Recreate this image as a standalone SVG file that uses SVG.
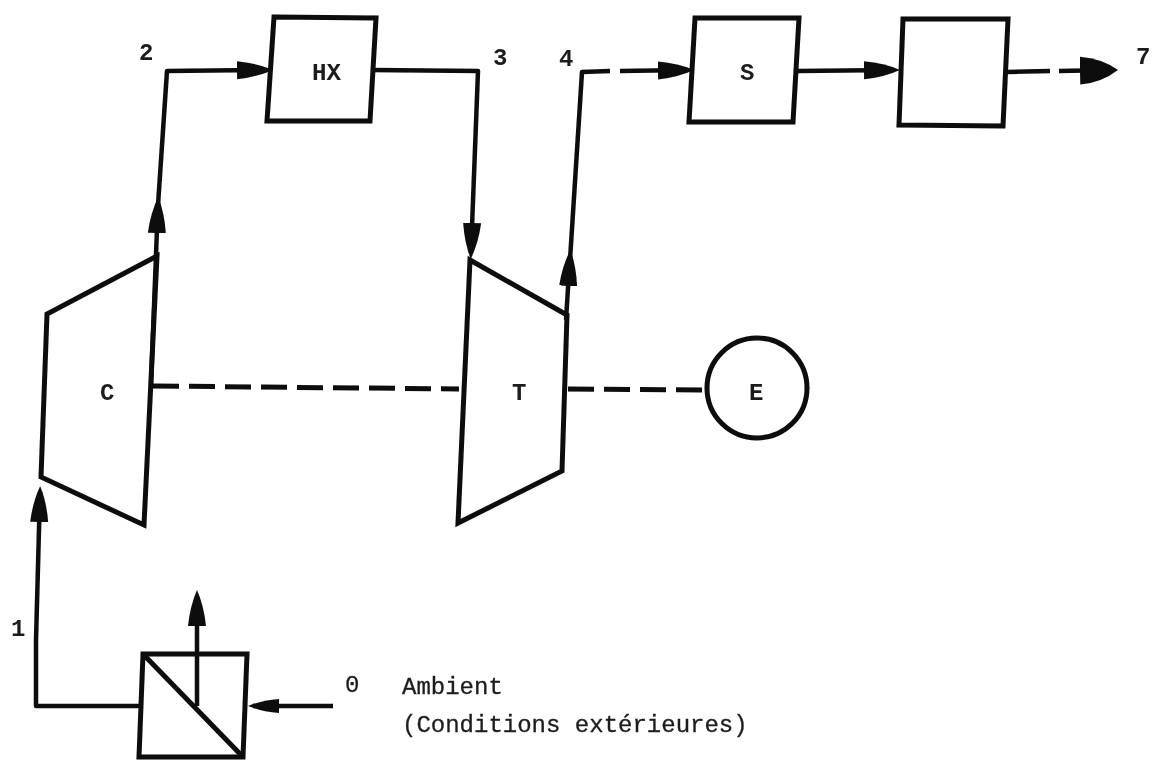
<svg xmlns="http://www.w3.org/2000/svg" width="1153" height="760" viewBox="0 0 1153 760">
<defs>
<marker id="a" markerUnits="userSpaceOnUse" markerWidth="40" markerHeight="20" refX="30" refY="10" orient="auto"><path d="M0 1Q20 3 36 10Q20 17 0 19Z" fill="#0c0c0c"/></marker>
<marker id="b" markerUnits="userSpaceOnUse" markerWidth="42" markerHeight="30" refX="32" refY="15" orient="auto"><path d="M0 1Q22 3 38 15Q22 27 0 29Z" fill="#0c0c0c"/></marker>
<marker id="c" markerUnits="userSpaceOnUse" markerWidth="34" markerHeight="18" refX="26" refY="9" orient="auto"><path d="M0 2Q16 3 31 9Q16 15 0 16Z" fill="#0c0c0c"/></marker>
<filter id="f" x="-2%" y="-2%" width="104%" height="104%"><feGaussianBlur stdDeviation="0.6"/></filter>
</defs>
<style>
.s{fill:none;stroke:#0c0c0c;stroke-width:5;stroke-linejoin:miter}
.c{fill:none;stroke:#0c0c0c;stroke-width:4.5;stroke-linejoin:round}
.d{fill:none;stroke:#0c0c0c;stroke-width:5;stroke-dasharray:26 10}
text{font-family:"Liberation Mono",monospace;fill:#1c1c1c;font-size:24px;stroke:#1c1c1c;stroke-width:.3}
.b{font-weight:bold;stroke:none}
</style>
<rect width="1153" height="760" fill="#fff"/>
<g filter="url(#f)">
<g id="connectors">
<path class="c" d="M140 706L36 706L36 640L40 492" marker-end="url(#a)"/>
<path class="c" d="M151 385L158 203" marker-end="url(#a)"/>
<path class="c" d="M158 205L167 71L267 70" marker-end="url(#a)"/>
<path class="c" d="M372 70L478 71L471 253" marker-end="url(#a)"/>
<path class="c" d="M566 320L570 256" marker-end="url(#a)"/>
<path class="c" d="M570 260L582 72L610 71"/>
<path class="c" d="M620 71L688 70" marker-end="url(#a)"/>
<path class="c" d="M798 71L894 70" marker-end="url(#a)"/>
<path class="c" d="M1006 72L1050 71"/>
<path class="c" d="M1059 71L1112 70" marker-end="url(#b)"/>
<path class="d" d="M153 386L459 389"/>
<path class="d" d="M568 389L704 390"/>
<path class="c" d="M197 706L197 596" marker-end="url(#a)"/>
<path class="c" d="M333 706L253 706" marker-end="url(#c)"/>
</g>
<g id="C"><path class="s" d="M41 477L47 314L157 256L144 525Z"/><text x="100" y="400" class="b">C</text></g>
<g id="T"><path class="s" d="M470 260L567 315L562 471L458 523Z"/><text x="512" y="400" class="b">T</text></g>
<g id="HX"><path class="s" d="M274 17L376 18L370 121L267 121Z"/><text x="312" y="80" class="b" textLength="29" lengthAdjust="spacingAndGlyphs">HX</text></g>
<g id="S"><path class="s" d="M695 18L799 18L793 122L689 122Z"/><text x="740" y="80" class="b">S</text></g>
<g id="box"><path class="s" d="M903 19L1008 19L1003 126L899 125Z"/></g>
<g id="E"><circle class="s" cx="757" cy="388" r="50"/><text x="749" y="400" class="b">E</text></g>
<g id="filter"><path class="s" d="M143 654H247L243 757H139Z"/><path class="s" d="M143 654L243 757"/></g>
<g id="labels">
<text x="139" y="60" class="b">2</text><text x="493" y="65" class="b">3</text><text x="559" y="66" class="b">4</text><text x="1136" y="64" class="b">7</text><text x="11" y="636" class="b">1</text><text x="345" y="692">0</text>
<text x="402" y="694">Ambient</text><text x="402" y="732">(Conditions extérieures)</text>
</g>
</g>
</svg>
